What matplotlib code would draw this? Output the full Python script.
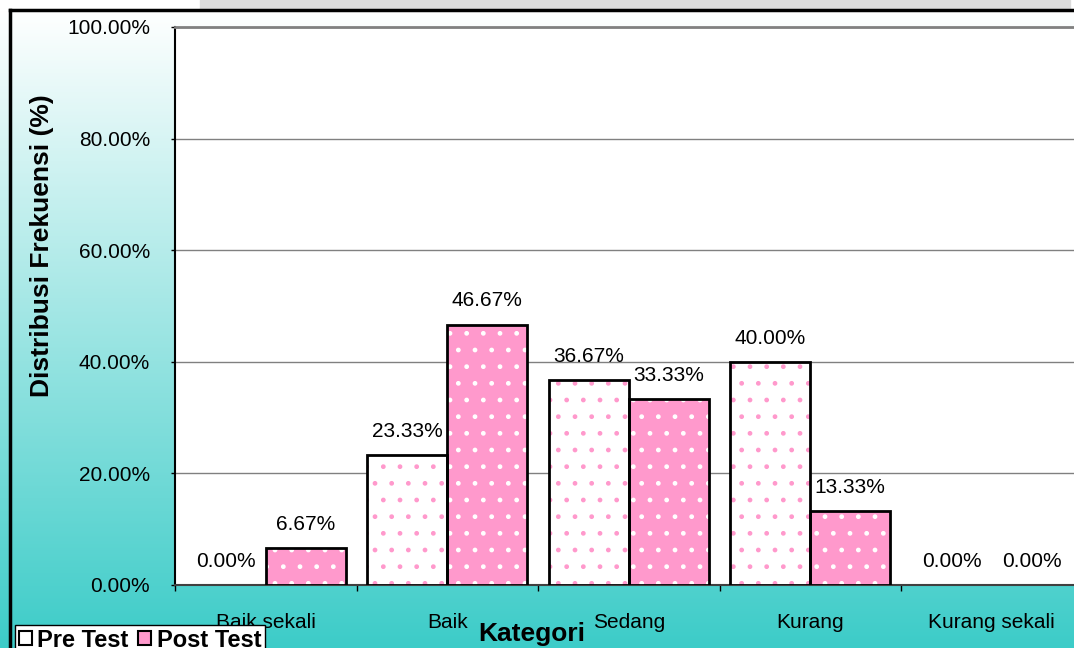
import numpy as np
import matplotlib
matplotlib.use("Agg")
import matplotlib.pyplot as plt
from matplotlib.patches import Patch

categories = ["Baik sekali", "Baik", "Sedang", "Kurang", "Kurang sekali"]
pre_test = [0.00, 23.33, 36.67, 40.00, 0.00]
post_test = [6.67, 46.67, 33.33, 13.33, 0.00]
y_ticks = [0, 20, 40, 60, 80, 100]

pink = "#FF99CC"
teal = np.array([0x3C, 0xCC, 0xC8]) / 255.0

plt.rcParams["font.family"] = ["Liberation Sans", "DejaVu Sans"]
plt.rcParams["hatch.linewidth"] = 1.0

W, H = 1074, 648
fig = plt.figure(figsize=(W / 100, H / 100), dpi=100)

# background gradient (white at chart top -> teal at the bottom)
bg = fig.add_axes([0, 0, 1, 1], zorder=-5)
t = np.clip((np.arange(H) - 10) / (H - 10), 0, 1)[:, None]
grad = (1 - t) * np.ones(3) + t * teal
img = np.repeat(grad[:, None, :], 20, axis=1)
bg.imshow(img, aspect="auto", extent=[0, 1, 0, 1], origin="upper")
bg.fill_between([0, 1], 1 - 10 / H, 1, color="white")
bg.fill_between([200 / W, 1070 / W], 1 - 10 / H, 1, color="#DCDCDC")
bg.plot([10 / W, 10 / W], [0, 1 - 10 / H], color="black", lw=2.5)
bg.plot([10 / W, 1], [1 - 10 / H, 1 - 10 / H], color="black", lw=2.5)
bg.set_xlim(0, 1)
bg.set_ylim(0, 1)
bg.axis("off")

left, right = 175 / W, 1082.5 / W
bottom, top = 1 - 585 / H, 1 - 27 / H
ax = fig.add_axes([left, bottom, right - left, top - bottom])
ax.set_facecolor("white")

x = np.arange(len(categories))
w = 0.44
# pattern fill
ax.bar(x - w / 2, pre_test, w, color="white", edgecolor=pink, hatch=".", linewidth=0, zorder=3)
ax.bar(x + w / 2, post_test, w, color=pink, edgecolor="white", hatch=".", linewidth=0, zorder=3)
# outlines (none for empty bars)
ax.bar(x - w / 2, pre_test, w, fill=False, edgecolor="black",
       linewidth=[2 if v > 0 else 0 for v in pre_test], zorder=4)
ax.bar(x + w / 2, post_test, w, fill=False, edgecolor="black",
       linewidth=[2 if v > 0 else 0 for v in post_test], zorder=4)

for xs, vals in ((x - w / 2, pre_test), (x + w / 2, post_test)):
    for xi, v in zip(xs, vals):
        ax.annotate(f"{v:.2f}%", (xi, v), xytext=(0, 17), textcoords="offset points",
                    ha="center", va="center", fontsize=15, zorder=5)

ax.set_xlim(-0.5, len(categories) - 0.5)
ax.set_ylim(0, 100)
ax.set_yticks(y_ticks)
ax.set_yticklabels([f"{v:.2f}%" for v in y_ticks], fontsize=15)
ax.set_xticks(x)
ax.set_xticklabels(categories, fontsize=15)
ax.set_xticks(np.arange(-0.5, len(categories), 1), minor=True)
ax.tick_params(axis="x", which="major", length=0, pad=20)
ax.tick_params(axis="x", which="minor", length=4, width=1, direction="out")
ax.tick_params(axis="y", length=3, width=1, direction="out", pad=15)

ax.grid(axis="y", color="#808080", linewidth=1, zorder=0)
ax.set_axisbelow(True)
ax.spines["top"].set_color("#808080")
ax.spines["top"].set_linewidth(2)
ax.spines["right"].set_visible(False)
ax.spines["left"].set_color("black")
ax.spines["left"].set_linewidth(1.5)
ax.spines["bottom"].set_color("#404040")
ax.spines["bottom"].set_linewidth(1.5)

fig.text(42 / W, 1 - 246 / H, "Distribusi Frekuensi (%)", rotation=90,
         ha="center", va="center", fontsize=19, fontweight="bold")
fig.text(532 / W, 1 - 634 / H, "Kategori", ha="center", va="center",
         fontsize=19, fontweight="bold")

handles = [Patch(facecolor="white", edgecolor="black", linewidth=1.5),
           Patch(facecolor=pink, edgecolor="black", linewidth=1.5)]
leg = fig.legend(handles, ["Pre Test", "Post Test"], loc="upper left",
                 bbox_to_anchor=(15 / W, 1 - 625 / H), ncol=2,
                 prop={"size": 17, "weight": "bold"}, frameon=True, fancybox=False,
                 handlelength=0.55, handleheight=0.55, handletextpad=0.25,
                 columnspacing=0.4, borderpad=0.15, borderaxespad=0)
leg.get_frame().set_edgecolor("black")
leg.get_frame().set_linewidth(1)
leg.get_frame().set_facecolor("white")
leg.get_frame().set_alpha(1)

fig.savefig("out.png", dpi=100)
